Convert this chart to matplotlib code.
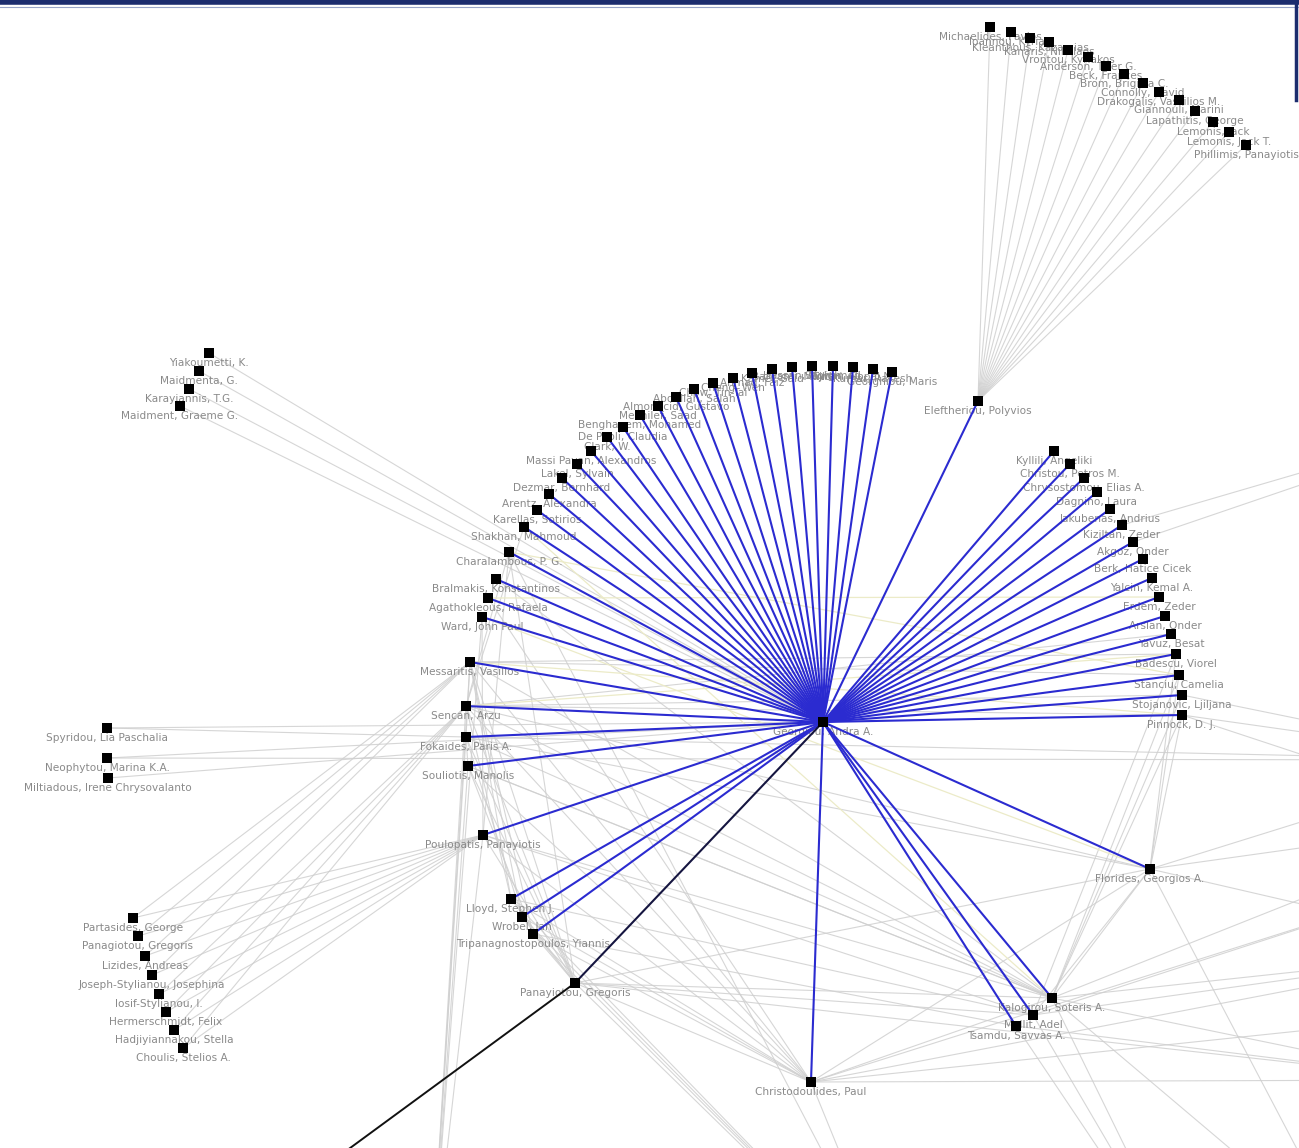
import matplotlib
matplotlib.use("Agg")
import matplotlib.pyplot as plt

# ---------------- data: nodes (pixel layout coordinates of the network drawing) ----------------
hub_name = "Georgiou, Andra A."
hub_x, hub_y = 823, 722

# nodes linked to the hub by highlighted (blue) edges
blue_names = [
    # upper arc
    "Clark, W.", "De Paoli, Claudia", "Benghanem, Mohamed", "Mekhilef, Saad",
    "Almonacid, Gustavo", "Abdallah, Salah", "Chow, Tin-Tai", "Cheng, Wen",
    "Ahmad, Faiz", "Kamel, Said", "Bahrami, Majid", "Hassan, Mohamed",
    "Sayigh, Ali", "Tiwari, Gopal N.", "Kumar, Rakesh", "Georghiou, Maris",
    # left arc
    "Massi Pavan, Alexandros", "Lakel, Sylvain", "Dezmar, Bernhard",
    "Arentz, Alexandra", "Karellas, Sotirios", "Shakhan, Mahmoud",
    "Charalambous, P. G.", "Bralmakis, Konstantinos", "Agathokleous, Rafaela",
    "Ward, John Paul", "Messaritis, Vasilios", "Sencan, Arzu",
    "Fokaides, Paris A.", "Souliotis, Manolis", "Poulopatis, Panayiotis",
    "Lloyd, Stephen J.", "Wrobel, Jan", "Tripanagnostopoulos, Yiannis",
    # right arc
    "Kyllili, Angeliki", "Christou, Petros M.", "Chrysostomou, Elias A.",
    "Dagnino, Laura", "Jakubenas, Andrius", "Kiziltan, Zeder", "Akgoz, Onder",
    "Berk, Hatice Cicek", "Yalcin, Kemal A.", "Erdem, Zeder", "Arslan, Onder",
    "Yavuz, Besat", "Badescu, Viorel", "Stanciu, Camelia",
    "Stojanovic, Ljiljana", "Pinnock, D. J.",
    # lower
    "Eleftheriou, Polyvios", "Florides, Georgios A.", "Kalogirou, Soteris A.",
    "Mellit, Adel", "Tsamdu, Savvas A.", "Christodoulides, Paul",
]
blue_x = [607, 623, 640, 658, 676, 694, 713, 733, 752, 772, 792, 812, 833, 853, 873, 892,
          591, 577, 562, 549, 537, 524, 509, 496, 488, 482, 470, 466, 466, 468, 483, 511, 522, 533,
          1054, 1070, 1084, 1097, 1110, 1122, 1133, 1143, 1152, 1159, 1165, 1171, 1176, 1179, 1182, 1182,
          978, 1150, 1052, 1033, 1016, 811]
blue_y = [437, 427, 415, 406, 397, 389, 383, 378, 373, 369, 367, 366, 366, 367, 369, 372,
          451, 464, 478, 494, 510, 527, 552, 579, 598, 617, 662, 706, 737, 766, 835, 899, 917, 934,
          451, 464, 478, 492, 509, 525, 542, 559, 578, 597, 616, 634, 654, 675, 695, 715,
          401, 869, 998, 1015, 1026, 1082]

# node linked to the hub by the dark edge
dark_name = "Panayiotou, Gregoris"
dark_x, dark_y = 575, 983

# top-right cluster (linked to Eleftheriou)
top_names = ["Michaelides, Pavlos", "Ioannou, Kyriaki", "Kleanthous, Kazamias",
             "Kanaris, Nikolaos", "Vrontou, Kyriakos", "Anderson, Tyler G.",
             "Beck, Frances", "Brom, Brigitta C.", "Connolly, David",
             "Drakogalis, Vassilios M.", "Giannouli, Marini", "Lapathitis, George",
             "Lemonis, Jack", "Lemonis, Jack T.", "Phillimis, Panayiotis"]
top_x = [990, 1011, 1030, 1049, 1068, 1088, 1106, 1124, 1143, 1159, 1179, 1195, 1213, 1229, 1246]
top_y = [27, 32, 38, 42, 50, 57, 66, 74, 83, 92, 100, 111, 122, 132, 145]

# upper-left cluster
ul_names = ["Yiakoumetti, K.", "Maidmenta, G.", "Karayiannis, T.G.", "Maidment, Graeme G."]
ul_x = [209, 199, 189, 180]
ul_y = [353, 371, 389, 406]

# middle-left cluster
ml_names = ["Spyridou, Lia Paschalia", "Neophytou, Marina K.A.", "Miltiadous, Irene Chrysovalanto"]
ml_x = [107, 107, 108]
ml_y = [728, 758, 778]

# lower-left cluster
ll_names = ["Partasides, George", "Panagiotou, Gregoris", "Lizides, Andreas",
            "Joseph-Stylianou, Josephina", "Iosif-Stylianou, I.", "Hermerschmidt, Felix",
            "Hadjiyiannakou, Stella", "Choulis, Stelios A."]
ll_x = [133, 138, 145, 152, 159, 166, 174, 183]
ll_y = [918, 936, 956, 975, 994, 1012, 1030, 1048]

# collaborators lying outside the visible window
ext_names = ["ext_r1", "ext_r2", "ext_r3", "ext_r4", "ext_r5", "ext_b1", "ext_b2", "ext_b3",
             "ext_bl", "ext_r6", "ext_r7", "ext_b4"]
ext_x = [1550, 1500, 1500, 1500, 1450, 1200, 900, 430, 252, 1500, 1450, 1350]
ext_y = [400, 760, 820, 950, 1080, 1300, 1300, 1300, 1220, 1010, 880, 1250]

# ordinary (grey) co-authorship edges
grey_edges = (
    [("Eleftheriou, Polyvios", n) for n in top_names]
    + [(n, hub_name) for n in ul_names]
    + [(n, hub_name) for n in ml_names]
    + [(n, "Poulopatis, Panayiotis") for n in ll_names]
    + [(n, "Messaritis, Vasilios") for n in ll_names[:4]]
    + [(n, "Sencan, Arzu") for n in ll_names[4:]]
    + [("Neophytou, Marina K.A.", "ext_r2"), ("Spyridou, Lia Paschalia", "Fokaides, Paris A.")]
    + [(dark_name, n) for n in ["Messaritis, Vasilios", "Sencan, Arzu", "Fokaides, Paris A.",
                                 "Souliotis, Manolis", "Poulopatis, Panayiotis", "Lloyd, Stephen J.",
                                 "Wrobel, Jan", "Tripanagnostopoulos, Yiannis", "Kalogirou, Soteris A.",
                                 "Mellit, Adel", "Christodoulides, Paul", "Florides, Georgios A.",
                                 "ext_b2", "Charalambous, P. G.", "ext_r5"]]
    + [("Christodoulides, Paul", n) for n in ["ext_r4", "ext_r5", "ext_r6", "Kalogirou, Soteris A.",
                                              "Florides, Georgios A.", "Sencan, Arzu",
                                              "Messaritis, Vasilios", "ext_b2", "Poulopatis, Panayiotis",
                                              "ext_r7"]]
    + [("Kalogirou, Soteris A.", n) for n in ["Florides, Georgios A.", "Pinnock, D. J.",
                                              "Stojanovic, Ljiljana", "Stanciu, Camelia",
                                              "ext_r3", "ext_r4", "ext_r5", "ext_b1", "ext_b4",
                                              "Fokaides, Paris A.", "Sencan, Arzu",
                                              "Messaritis, Vasilios", "Souliotis, Manolis"]]
    + [("Mellit, Adel", n) for n in ["Florides, Georgios A.", "ext_r4", "ext_b1", "Badescu, Viorel",
                                     "Lloyd, Stephen J.", "ext_r7"]]
    + [("Tsamdu, Savvas A.", n) for n in ["ext_r5", "ext_b1", "Tripanagnostopoulos, Yiannis"]]
    + [("Florides, Georgios A.", n) for n in ["ext_r2", "ext_r3", "ext_r4", "Pinnock, D. J.",
                                              "Badescu, Viorel", "Stanciu, Camelia",
                                              "Fokaides, Paris A.", "Sencan, Arzu", "ext_b4"]]
    + [("Kiziltan, Zeder", "ext_r1"), ("Akgoz, Onder", "ext_r1"), ("Pinnock, D. J.", "ext_r2"),
       ("Stojanovic, Ljiljana", "ext_r2"), ("Pinnock, D. J.", "ext_r3")]
    + [("Messaritis, Vasilios", n) for n in ["Lloyd, Stephen J.", "Wrobel, Jan",
                                             "Tripanagnostopoulos, Yiannis", "Fokaides, Paris A.",
                                             "Stanciu, Camelia", "Badescu, Viorel", "ext_b3"]]
    + [("Sencan, Arzu", n) for n in ["Stojanovic, Ljiljana", "Pinnock, D. J.", "Yavuz, Besat",
                                     "Lloyd, Stephen J.", "ext_b3", "Shakhan, Mahmoud",
                                     "Charalambous, P. G."]]
    + [("Fokaides, Paris A.", n) for n in ["ext_b3", "Wrobel, Jan", "ext_r2", "Souliotis, Manolis"]]
    + [("Souliotis, Manolis", n) for n in ["ext_b3", "Tripanagnostopoulos, Yiannis",
                                           "Kalogirou, Soteris A."]]
    + [("Poulopatis, Panayiotis", n) for n in ["ext_b3", "Charalambous, P. G.", "Ward, John Paul",
                                               "Mellit, Adel", "Kalogirou, Soteris A."]]
    + [(n, "ext_b2") for n in ["Lloyd, Stephen J.", "Wrobel, Jan", "Tripanagnostopoulos, Yiannis"]]
    + [(n, "Christodoulides, Paul") for n in ["Lloyd, Stephen J.", "Wrobel, Jan",
                                              "Tripanagnostopoulos, Yiannis", "Souliotis, Manolis"]]
    + [("Ward, John Paul", "ext_b3"), ("Agathokleous, Rafaela", "Christodoulides, Paul"),
       ("Bralmakis, Konstantinos", "Kalogirou, Soteris A."), ("Charalambous, P. G.", "ext_b2")]
)

# faint yellowish edges in the centre
pale_edges = [("Ward, John Paul", "Florides, Georgios A."), ("Messaritis, Vasilios", "Pinnock, D. J."),
              ("Charalambous, P. G.", "Stanciu, Camelia"), ("Shakhan, Mahmoud", "Kalogirou, Soteris A."),
              ("Sencan, Arzu", "Badescu, Viorel"), ("Agathokleous, Rafaela", "Erdem, Zeder")]

black_edge = (dark_name, "ext_bl")

# ---------------- build position lookup ----------------
pos = {hub_name: (hub_x, hub_y), dark_name: (dark_x, dark_y)}
for names, xs, ys in [(blue_names, blue_x, blue_y), (top_names, top_x, top_y),
                      (ul_names, ul_x, ul_y), (ml_names, ml_x, ml_y),
                      (ll_names, ll_x, ll_y), (ext_names, ext_x, ext_y)]:
    for n, x, y in zip(names, xs, ys):
        pos[n] = (x, y)

W, H = 1299, 1148
fig = plt.figure(figsize=(W / 100, H / 100), dpi=100)
ax = fig.add_axes([0, 0, 1, 1])
ax.set_xlim(0, W)
ax.set_ylim(H, 0)
ax.axis("off")

# grey edges
for a, b in grey_edges:
    (x1, y1), (x2, y2) = pos[a], pos[b]
    ax.plot([x1, x2], [y1, y2], color="#cfcfcf", lw=0.8, alpha=0.85, zorder=1,
            solid_capstyle="butt")
for a, b in pale_edges:
    (x1, y1), (x2, y2) = pos[a], pos[b]
    ax.plot([x1, x2], [y1, y2], color="#ecebc8", lw=0.9, zorder=1)

# labels
label_sets = [(blue_names, blue_x, blue_y), (top_names, top_x, top_y), (ul_names, ul_x, ul_y),
              (ml_names, ml_x, ml_y), (ll_names, ll_x, ll_y),
              ([hub_name, dark_name], [hub_x, dark_x], [hub_y, dark_y])]
for names, xs, ys in label_sets:
    for n, x, y in zip(names, xs, ys):
        ax.text(x, y + 10, n, ha="center", va="center", fontsize=7.6,
                color="#8a8a8a", family="DejaVu Sans", zorder=2, clip_on=True)

# blue edges from hub
for n, x, y in zip(blue_names, blue_x, blue_y):
    ax.plot([hub_x, x], [hub_y, y], color="#2b2bd0", lw=1.5, zorder=3, solid_capstyle="butt")

# dark edges
ax.plot([hub_x, dark_x], [hub_y, dark_y], color="#151540", lw=1.5, zorder=3)
(bx1, by1), (bx2, by2) = pos[black_edge[0]], pos[black_edge[1]]
ax.plot([bx1, bx2], [by1, by2], color="#111111", lw=1.4, zorder=3)

# nodes
all_x = [hub_x, dark_x] + blue_x + top_x + ul_x + ml_x + ll_x
all_y = [hub_y, dark_y] + blue_y + top_y + ul_y + ml_y + ll_y
ax.scatter(all_x, all_y, marker="s", s=44, color="black", zorder=4, linewidths=0)

# window frame at top
ax.plot([0, W], [2, 2], color="#1c2d6e", lw=4, zorder=5, solid_capstyle="butt")
ax.plot([0, W], [7, 7], color="#9aa6c8", lw=0.8, zorder=5)
ax.plot([1296, 1296], [0, 100], color="#1c2d6e", lw=2.5, zorder=5)

fig.savefig("out.png", dpi=100)
